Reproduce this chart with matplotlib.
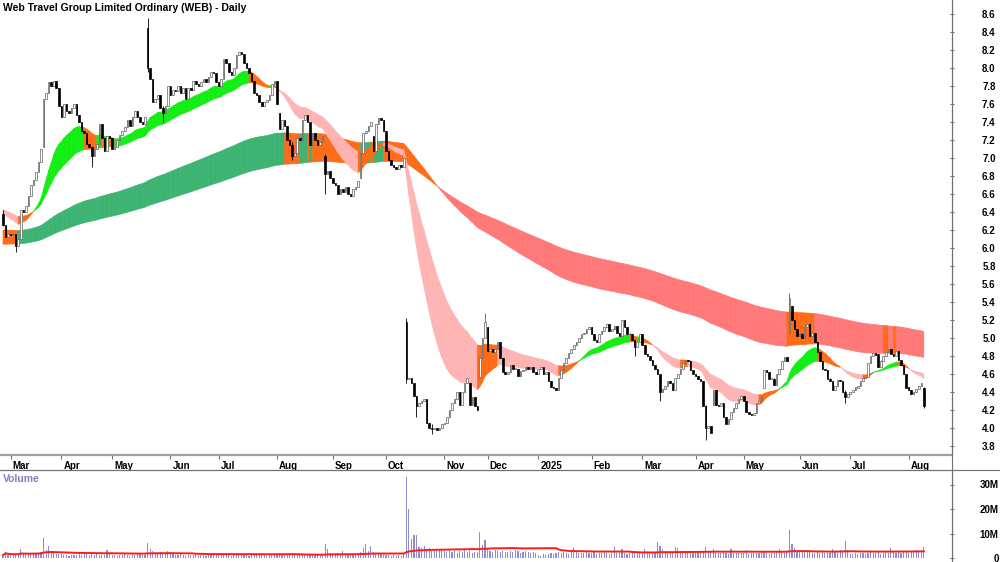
import numpy as np
import pandas as pd
import matplotlib
matplotlib.use('Agg')
import matplotlib.pyplot as plt
import matplotlib.transforms as mtransforms
from matplotlib.collections import PolyCollection
from matplotlib.lines import Line2D

plt.rcParams['font.family'] = ['Liberation Sans', 'DejaVu Sans']

# ── palette ──────────────────────────────────────────────────────────────────
SHORT_UP   = '#11ee11'
SHORT_DOWN = '#ffb4b4'
LONG_UP    = '#3cb371'
LONG_DOWN  = '#ff7777'
MIXED      = '#ff6a14'
VOL_C      = '#8c8cd2'
VOL_MA_C   = '#ff1a1a'
AXIS_C     = '#707070'

TITLE = 'Web Travel Group Limited Ordinary (WEB) - Daily'

# ── data (one list per month) ────────────────────────────────────────────────
MONTH_LABELS = ['', 'Mar', 'Apr', 'May', 'Jun', 'Jul', 'Aug', 'Sep', 'Oct', 'Nov',
                'Dec', '2025', 'Feb', 'Mar', 'Apr', 'May', 'Jun', 'Jul', 'Aug']

CLOSE_BY_MONTH = [
    [6.26, 6.12, 6.15],
    [6.14, 6.16, 6.02, 6.10, 6.42, 6.40, 6.47, 6.58, 6.70, 6.76, 6.84, 6.95, 7.10, 7.65,
     7.72, 7.84, 7.80, 7.86, 7.78, 7.58],
    [7.46, 7.60, 7.52, 7.50, 7.55, 7.60, 7.48, 7.40, 7.30, 7.28, 7.16, 7.12, 7.02, 7.10,
     7.15, 7.38, 7.22, 7.08, 7.24, 7.22],
    [7.10, 7.12, 7.20, 7.26, 7.30, 7.34, 7.42, 7.36, 7.45, 7.52, 7.45, 7.40, 7.38, 7.46,
     8.00, 7.88, 7.62, 7.66, 7.70, 7.56, 7.50, 7.58, 7.80],
    [7.70, 7.76, 7.74, 7.80, 7.72, 7.78, 7.66, 7.78, 7.76, 7.86, 7.82, 7.80, 7.84, 7.88,
     7.84, 7.90, 7.96, 7.94, 7.84],
    [7.80, 7.88, 8.10, 8.05, 7.95, 7.92, 8.00, 8.14, 8.18, 8.15, 8.05, 8.00, 7.94, 7.86,
     7.72, 7.70, 7.62, 7.58, 7.62, 7.64, 7.70, 7.82, 7.86],
    [7.60, 7.32, 7.42, 7.36, 7.20, 7.14, 7.02, 7.06, 7.22, 7.20, 7.42, 7.48, 7.40, 7.14,
     7.28, 7.20, 7.14, 7.18, 7.24, 6.82, 6.86, 6.78],
    [6.72, 6.70, 6.60, 6.66, 6.62, 6.68, 6.60, 6.58, 6.66, 6.68, 6.74, 7.05, 7.28, 7.30,
     7.36, 7.40, 7.08, 7.38, 7.44, 7.42, 7.30],
    [7.08, 6.98, 6.92, 6.90, 6.88, 6.92, 6.90, 7.00, 4.55, 4.56, 4.50, 4.36, 4.24, 4.28,
     4.30, 4.32, 4.06, 4.00, 3.99, 4.00, 3.98, 4.00, 4.04],
    [4.06, 4.12, 4.20, 4.28, 4.32, 4.40, 4.26, 4.40, 4.50, 4.56, 4.26, 4.34, 4.24, 4.20,
     4.78, 5.00, 5.18],
    [4.86, 4.88, 4.85, 4.88, 4.96, 4.78, 4.62, 4.60, 4.62, 4.70, 4.66, 4.66, 4.58, 4.63,
     4.64, 4.68, 4.66, 4.68, 4.62, 4.60],
    [4.65, 4.68, 4.60, 4.62, 4.52, 4.46, 4.44, 4.42, 4.56, 4.64, 4.72, 4.78, 4.83, 4.88,
     4.92, 4.96, 5.00, 5.04, 5.06, 5.10, 5.12],
    [5.04, 4.98, 4.96, 5.04, 5.08, 5.12, 5.15, 5.08, 5.10, 5.13, 5.06, 5.02, 5.20, 5.12,
     5.05, 5.04, 4.98, 4.90, 4.96, 5.04],
    [4.92, 4.82, 4.80, 4.76, 4.70, 4.66, 4.60, 4.40, 4.43, 4.47, 4.52, 4.50, 4.42, 4.56,
     4.60, 4.65, 4.72, 4.76, 4.74, 4.64, 4.60],
    [4.58, 4.54, 4.52, 4.24, 4.00, 4.02, 3.95, 4.42, 4.26, 4.24, 4.28, 4.12, 4.05, 4.10,
     4.18, 4.22, 4.28, 4.32, 4.36],
    [4.30, 4.18, 4.16, 4.14, 4.17, 4.28, 4.30, 4.36, 4.64, 4.62, 4.55, 4.55, 4.48, 4.60,
     4.66, 4.74, 4.79, 4.74, 5.44, 5.20, 5.10, 5.02],
    [5.05, 5.00, 5.12, 5.16, 5.02, 5.06, 4.96, 4.84, 4.74, 4.66, 4.64, 4.55, 4.52, 4.42,
     4.47, 4.53, 4.52, 4.40, 4.34, 4.38],
    [4.40, 4.42, 4.45, 4.47, 4.52, 4.56, 4.57, 4.72, 4.80, 4.83, 4.81, 4.68, 4.75, 4.80,
     4.85, 4.88, 4.82, 4.80, 4.86, 4.76, 4.70, 4.60, 4.45],
    [4.42, 4.38, 4.40, 4.43, 4.47, 4.50, 4.25],
]

# volume in millions
VOLUME_BY_MONTH = [
    [1.2, 2.6, 1.4],
    [1.3, 1.1, 1.8, 1.5, 3.7, 1.6, 1.4, 1.7, 2.0, 1.8, 2.1, 2.2, 2.4, 8.3, 3.1, 4.9, 2.9,
     1.9, 1.6, 1.8],
    [1.5, 1.3, 1.2, 1.0, 1.4, 1.1, 1.3, 1.6, 1.2, 1.5, 1.8, 1.4, 2.0, 1.3, 1.6, 1.2, 1.4,
     1.1, 3.3, 1.5],
    [1.2, 1.4, 1.0, 1.3, 1.1, 1.5, 1.2, 1.0, 1.4, 1.3, 1.9, 1.5, 1.2, 1.4, 6.3, 3.7, 3.0,
     2.2, 1.8, 2.4, 2.0, 1.5, 2.9],
    [2.0, 1.5, 1.3, 1.1, 1.6, 1.2, 1.0, 1.4, 1.2, 1.1, 1.3, 0.9, 1.2, 1.4, 1.0, 1.3, 1.1,
     1.5, 1.2],
    [1.3, 1.1, 1.6, 1.4, 1.2, 1.0, 1.3, 1.5, 1.2, 1.4, 1.1, 1.3, 1.0, 1.2, 1.5, 1.3, 1.1,
     1.4, 1.2, 1.0, 1.3, 1.1, 1.4],
    [1.4, 1.9, 1.5, 1.6, 2.0, 1.7, 2.2, 1.5, 1.4, 1.3, 1.6, 1.2, 1.4, 1.8, 1.3, 1.5, 1.2,
     1.4, 1.6, 5.7, 3.7, 2.2],
    [1.8, 1.6, 2.0, 1.5, 2.9, 1.7, 1.4, 1.6, 1.3, 1.5, 1.8, 2.4, 4.2, 5.7, 2.9, 4.9, 2.3,
     2.0, 1.7, 1.5, 1.4],
    [1.3, 1.2, 1.0, 1.1, 0.9, 1.2, 1.0, 1.6, 33.0, 20.0, 7.7, 9.4, 9.4, 4.6, 4.0, 4.8, 3.4,
     3.9, 3.0, 3.3, 2.8, 3.1, 3.5],
    [2.8, 2.5, 3.0, 2.4, 2.7, 2.2, 2.9, 2.5, 3.1, 2.3, 2.7, 2.1, 2.4, 2.3, 10.7, 5.2, 7.3],
    [4.2, 3.0, 2.6, 3.2, 2.7, 2.4, 3.0, 2.6, 2.3, 2.9, 2.4, 3.1, 2.7, 2.2, 2.5, 2.9, 2.3,
     2.0, 2.6, 2.2],
    [1.2, 0.9, 1.5, 1.1, 1.8, 2.2, 1.6, 1.9, 2.4, 2.0, 2.6, 2.1, 1.8, 2.3, 4.2, 2.5, 2.0,
     2.2, 1.9, 2.4, 2.1],
    [2.0, 2.3, 1.8, 2.1, 1.9, 2.4, 2.0, 1.7, 2.2, 4.3, 2.1, 1.9, 3.7, 2.2, 1.8, 2.0, 2.3,
     2.5, 2.1, 2.4],
    [2.1, 3.7, 2.3, 2.0, 2.5, 2.2, 6.5, 4.9, 3.7, 2.4, 2.8, 2.2, 2.6, 4.3, 4.2, 2.4, 2.0,
     2.3, 1.9, 2.1, 2.2],
    [2.0, 2.3, 2.1, 3.0, 4.3, 2.6, 2.8, 3.7, 2.2, 1.9, 2.1, 2.4, 2.0, 1.8, 3.5, 2.1, 1.9,
     2.2, 2.0],
    [2.0, 3.2, 1.8, 2.1, 1.9, 2.2, 2.0, 2.3, 3.0, 2.1, 1.8, 2.0, 2.2, 2.4, 3.5, 2.3, 2.0,
     2.6, 11.4, 5.6, 4.0, 2.8],
    [2.4, 2.8, 3.2, 2.3, 2.6, 2.0, 2.2, 2.5, 2.1, 2.3, 1.9, 2.2, 2.0, 3.8, 2.4, 2.1, 3.2,
     2.6, 7.1, 3.2],
    [1.8, 1.6, 2.0, 1.5, 1.9, 2.1, 1.7, 2.2, 2.4, 1.9, 2.0, 2.3, 1.8, 2.1, 2.5, 2.2, 4.2,
     2.3, 2.0, 2.4, 2.2, 2.6, 3.0],
    [2.2, 2.4, 2.6, 3.2, 2.3, 2.5, 4.4],
]

# opening gaps (bar index -> open); other bars open at the prior close
GAP_OPEN = {0: 6.38, 16: 7.12, 57: 8.45, 109: 7.50, 127: 7.02, 141: 6.78, 146: 7.24,
            159: 5.18, 184: 4.50, 188: 4.57, 191: 5.12, 280: 4.26, 300: 4.45,
            310: 5.06, 311: 5.36, 345: 4.82, 363: 4.44}

# visible wicks (bar index -> (high, low))
WICKS = {0: (6.42, 6.24), 5: (6.16, 5.96), 35: (7.12, 6.90), 57: (8.55, 7.95),
         63: (7.58, 7.40), 114: (7.18, 6.98), 127: (7.04, 6.60), 159: (5.22, 4.50),
         163: (4.36, 4.12), 169: (4.04, 3.93), 190: (5.28, 5.00), 249: (4.98, 4.80),
         259: (4.58, 4.30), 277: (4.26, 3.87), 310: (5.50, 5.04), 332: (4.42, 4.28),
         363: (4.46, 4.22)}

# band levels where the chart opens (values before the first bar)
EMA_SEED = {'short_fast': 6.40, 'short_slow': 6.44, 'long_fast': 6.20, 'long_slow': 6.04}
SHORT_SPANS = (20, 40)
LONG_SPANS = (150, 250)
VOL_MA_SPAN = 60

# how far into a band (0 = fast edge, 0.5 = middle) price must sit to turn it orange
SHORT_ORANGE_AT = 0.5
LONG_ORANGE_AT = 0.0

PRICE_TICKS = [3.8, 4.0, 4.2, 4.4, 4.6, 4.8, 5.0, 5.2, 5.4, 5.6, 5.8, 6.0, 6.2, 6.4,
               6.6, 6.8, 7.0, 7.2, 7.4, 7.6, 7.8, 8.0, 8.2, 8.4, 8.6]
VOL_TICKS = [0, 10, 20, 30]
VOL_TICK_LABELS = ['0', '10M', '20M', '30M']


def ema(values, span, seed):
    a = 2.0 / (span + 1)
    out = np.empty(len(values))
    prev = seed
    for i, v in enumerate(values):
        prev = a * v + (1 - a) * prev
        out[i] = prev
    return out


def ribbon(ax, x, fast, slow, close, up_c, down_c, orange_at, z):
    """Band between two EMAs in trend colour, orange when price has moved back
    into (or through) the band."""
    polys, cols = [], []
    line = fast + orange_at * (slow - fast)
    for i in range(1, len(x)):
        polys.append([(x[i - 1], fast[i - 1]), (x[i], fast[i]),
                      (x[i], slow[i]), (x[i - 1], slow[i - 1])])
        if fast[i] >= slow[i]:
            c = up_c if close[i] >= line[i] else MIXED
        else:
            c = down_c if close[i] <= line[i] else MIXED
        cols.append(c)
    ax.add_collection(PolyCollection(polys, facecolors=cols, edgecolors=cols,
                                     linewidths=0.4, zorder=z))


def main():
    close = np.array([v for m in CLOSE_BY_MONTH for v in m])
    vol = np.array([v for m in VOLUME_BY_MONTH for v in m])
    n = len(close)
    x = np.arange(n)

    opn = np.r_[close[0], close[:-1]].astype(float)
    for i, o in GAP_OPEN.items():
        opn[i] = o
    high = np.maximum(opn, close)
    low = np.minimum(opn, close)
    for i, (h, l) in WICKS.items():
        high[i], low[i] = h, l

    s_fast = ema(close, SHORT_SPANS[0], EMA_SEED['short_fast'])
    s_slow = ema(close, SHORT_SPANS[1], EMA_SEED['short_slow'])
    l_fast = ema(close, LONG_SPANS[0], EMA_SEED['long_fast'])
    l_slow = ema(close, LONG_SPANS[1], EMA_SEED['long_slow'])

    month_start = np.cumsum([0] + [len(m) for m in CLOSE_BY_MONTH[:-1]])

    fig = plt.figure(figsize=(10, 5.62), dpi=100)
    W, H = 1000.0, 562.0
    ax = fig.add_axes([0, 1 - 455 / H, 952 / W, 455 / H])
    vax = fig.add_axes([0, 0, 952 / W, 92 / H], sharex=ax)

    # price panel
    ribbon(ax, x, l_fast, l_slow, close, LONG_UP, LONG_DOWN, LONG_ORANGE_AT, 1)
    ribbon(ax, x, s_fast, s_slow, close, SHORT_UP, SHORT_DOWN, SHORT_ORANGE_AT, 2)

    up = close >= opn
    body_lo = np.minimum(opn, close)
    body_h = np.maximum(np.abs(close - opn), 0.008)
    ax.vlines(x[up], low[up], high[up], color='#606060', lw=0.6, zorder=3)
    ax.vlines(x[~up], low[~up], high[~up], color='black', lw=0.6, zorder=3)
    ax.bar(x[up], body_h[up], bottom=body_lo[up], width=0.62, facecolor='white',
           edgecolor='#606060', linewidth=0.5, zorder=4)
    ax.bar(x[~up], body_h[~up], bottom=body_lo[~up], width=0.62, facecolor='black',
           edgecolor='black', linewidth=0.5, zorder=4)

    ax.set_xlim(-1.18, 374.1)
    ax.set_ylim(3.7, 8.6 + 14 / 90)
    ax.yaxis.tick_right()
    ax.set_yticks(PRICE_TICKS)
    ax.set_yticklabels([f'{p:.1f}' for p in PRICE_TICKS])
    ax.tick_params(axis='y', direction='inout', length=3, color=AXIS_C, pad=30,
                   labelsize=7)
    for lbl in ax.get_yticklabels():
        lbl.set_ha('right')
        lbl.set_fontweight('bold')

    ticks = [s for s, lab in zip(month_start, MONTH_LABELS) if lab]
    labels = [lab for lab in MONTH_LABELS if lab]
    ax.set_xticks(ticks)
    ax.set_xticklabels(labels)
    ax.tick_params(axis='x', direction='out', length=3, color=AXIS_C, pad=1.5,
                   labelsize=7)
    shift = mtransforms.ScaledTranslation(2 / 100, 0, fig.dpi_scale_trans)
    for lbl in ax.get_xticklabels():
        lbl.set_ha('left')
        lbl.set_fontweight('bold')
        lbl.set_transform(lbl.get_transform() + shift)

    for side in ('left', 'top'):
        ax.spines[side].set_visible(False)
    ax.spines['bottom'].set_color('#a0a0a0')
    ax.spines['bottom'].set_linewidth(1.6)
    ax.spines['right'].set_color(AXIS_C)

    # volume panel
    vax.bar(x, vol, width=0.45, color=VOL_C, zorder=2)
    vol_ma = pd.Series(vol).rolling(VOL_MA_SPAN, min_periods=1).mean()
    vax.plot(x, vol_ma, color=VOL_MA_C, lw=1.4, zorder=3)
    vax.set_ylim(-4 / 2.45, 88 / 2.45)
    vax.yaxis.tick_right()
    vax.set_yticks(VOL_TICKS)
    vax.set_yticklabels(VOL_TICK_LABELS)
    vax.tick_params(axis='y', direction='inout', length=3, color=AXIS_C, pad=32,
                    labelsize=7)
    for lbl in vax.get_yticklabels():
        lbl.set_ha('right')
        lbl.set_fontweight('bold')
    vax.tick_params(axis='x', bottom=False, labelbottom=False)
    for side in ('left', 'bottom'):
        vax.spines[side].set_visible(False)
    vax.spines['top'].set_color(AXIS_C)
    vax.spines['right'].set_color(AXIS_C)

    fig.add_artist(Line2D([952 / W, 952 / W], [0, 1], transform=fig.transFigure,
                          color=AXIS_C, lw=0.8))
    fig.add_artist(Line2D([0, 1], [1 - 470 / H, 1 - 470 / H], transform=fig.transFigure,
                          color=AXIS_C, lw=0.8))

    fig.text(3 / W, 1 - 8 / H, TITLE, ha='left', va='center', fontsize=7.5,
             fontweight='bold', color='black')
    fig.text(3 / W, 1 - 479 / H, 'Volume', ha='left', va='center', fontsize=7.5,
             fontweight='bold', color='#8080c0')

    fig.savefig('out.png', dpi=100, facecolor='white')
    plt.close(fig)


if __name__ == '__main__':
    main()
